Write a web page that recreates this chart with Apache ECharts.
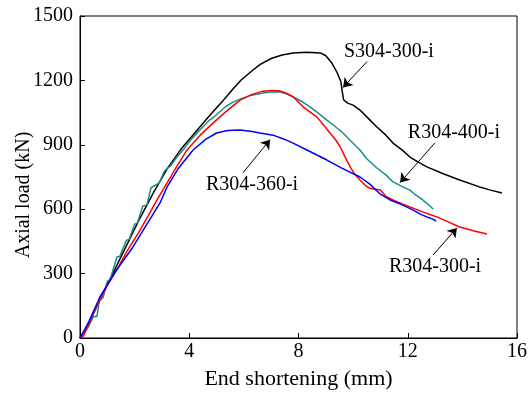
<!DOCTYPE html>
<html>
<head>
<meta charset="utf-8">
<script src="https://cdn.jsdelivr.net/npm/echarts@6/dist/echarts.min.js"></script>
<style>
html, body { margin: 0; padding: 0; background: #fff; }
#chart { width: 531px; height: 396px; }
</style>
</head>
<body>
<div id="chart"></div>
<script>
// end shortening (mm) vs axial load (kN)
var s304_300 = [[0,0],[0.3,60],[0.7,170],[1.2,300],[1.7,430],[2.2,560],[2.7,680],[3.2,790],[3.7,880],[4.2,955],[4.7,1030],[5.2,1100],[5.6,1160],[5.9,1202],[6.3,1245],[6.6,1275],[7.0,1302],[7.4,1318],[7.8,1328],[8.3,1331],[8.8,1328],[9.0,1315],[9.2,1285],[9.4,1240],[9.55,1195],[9.6,1150],[9.65,1110],[9.8,1094],[10.0,1085],[10.25,1062],[10.5,1030],[10.87,983],[11.2,945],[11.46,908],[11.8,875],[12.08,843],[12.4,818],[12.7,797],[13.3,765],[13.9,736],[14.6,705],[15.0,690],[15.45,675]];
var r304_400 = [[0,0],[0.3,50],[0.5,100],[0.62,100],[0.7,170],[0.85,190],[1.0,265],[1.1,270],[1.35,377],[1.45,380],[1.7,455],[1.8,460],[2.0,530],[2.1,536],[2.3,615],[2.45,619],[2.6,700],[2.9,722],[3.1,780],[3.3,800],[3.55,843],[3.8,880],[4.1,930],[4.39,969],[4.7,1010],[5.0,1040],[5.3,1075],[5.6,1099],[5.9,1115],[6.2,1128],[6.7,1141],[7.0,1146],[7.32,1147],[7.6,1135],[7.8,1124],[8.1,1103],[8.42,1077],[8.7,1050],[9.04,1015],[9.3,990],[9.63,955],[9.9,920],[10.25,876],[10.5,835],[10.87,792],[11.2,760],[11.46,727],[11.8,705],[12.08,689],[12.3,665],[12.5,648],[12.75,622],[12.93,601]];
var r304_300 = [[0,0],[0.1,5],[0.2,30],[0.4,90],[0.73,177],[1.0,245],[1.35,317],[1.7,400],[2.2,503],[2.5,570],[2.82,643],[3.2,725],[3.5,790],[3.92,876],[4.4,945],[4.87,1001],[5.3,1050],[5.86,1108],[6.3,1135],[6.7,1150],[7.0,1153],[7.3,1152],[7.55,1140],[7.8,1124],[8.17,1077],[8.4,1055],[8.67,1030],[8.9,995],[9.15,955],[9.35,925],[9.52,892],[9.7,845],[9.89,797],[10.05,765],[10.25,736],[10.45,710],[10.6,698],[11.0,689],[11.2,660],[11.46,643],[11.8,625],[12.08,611],[12.5,590],[13.07,564],[13.5,540],[13.9,517],[14.4,500],[14.9,484]];
var r304_360 = [[0,0],[0.3,70],[0.73,191],[1.3,310],[1.94,424],[2.4,520],[2.93,629],[3.19,704],[3.6,790],[4.14,876],[4.6,925],[5.0,955],[5.4,967],[5.86,969],[6.3,962],[6.59,955],[7.07,945],[7.5,925],[7.8,908],[8.4,870],[9.04,829],[9.6,790],[10.25,750],[10.6,718],[11.0,670],[11.35,643],[11.8,620],[12.2,596],[12.5,575],[12.7,564],[12.9,555],[13.04,545]];

var names = ['S304-300-i', 'R304-400-i', 'R304-300-i', 'R304-360-i'];
var colors = ['#000000', '#1a8c8c', '#ff0000', '#0000ff'];
// label position, arrow start, arrow end (data units)
var labelPos = [[11.31,1334],[13.69,957],[13.0,331],[6.3,714]];
var arrowFrom = [[10.51,1288],[13.0,910],[12.93,387],[5.97,770]];
var arrowTo = [[9.63,1167],[11.72,724],[13.8,513],[6.96,924]];
var seriesData = [s304_300, r304_400, r304_300, r304_360];

var font = '"Liberation Serif", "Times New Roman", serif';

function plain(v) {
    return String(v);
}

var series = seriesData.map(function (d, i) {
    return {
        name: names[i],
        type: 'line',
        data: d,
        showSymbol: false,
        lineStyle: { color: colors[i], width: 1.5 },
        itemStyle: { color: colors[i] },
        animation: false,
        markLine: {
            silent: true,
            symbol: ['none', 'arrow'],
            symbolSize: 9,
            lineStyle: { color: '#000', width: 1, type: 'solid' },
            label: { show: false },
            data: [[{ coord: arrowFrom[i] }, { coord: arrowTo[i] }]]
        },
        markPoint: {
            silent: true,
            symbol: 'circle',
            symbolSize: 1,
            itemStyle: { color: 'rgba(0,0,0,0)' },
            label: {
                show: true,
                position: 'inside',
                formatter: '{t|' + names[i] + '}',
                rich: {
                    t: { color: '#000', fontFamily: font, fontSize: 20 }
                }
            },
            data: [{ coord: labelPos[i] }]
        }
    };
});

var option = {
    backgroundColor: '#fff',
    animation: false,
    textStyle: { fontFamily: font },
    grid: {
        left: 80,
        right: 14,
        top: 16,
        bottom: 58,
        outerBoundsMode: 'none',
        show: true,
        borderColor: '#000',
        borderWidth: 1
    },
    xAxis: {
        type: 'value',
        min: 0,
        max: 16,
        interval: 4,
        name: 'End shortening (mm)',
        nameLocation: 'middle',
        nameGap: 30,
        nameMoveOverlap: false,
        nameTextStyle: { color: '#000', fontFamily: font, fontSize: 22 },
        axisLine: { lineStyle: { color: '#000', width: 1 } },
        axisTick: { inside: true, length: 5, lineStyle: { color: '#000' } },
        axisLabel: { color: '#000', fontFamily: font, fontSize: 20, margin: 4, formatter: plain },
        splitLine: { show: false }
    },
    yAxis: {
        type: 'value',
        min: 0,
        max: 1500,
        interval: 300,
        name: 'Axial load (kN)',
        nameLocation: 'middle',
        nameGap: 46,
        nameMoveOverlap: false,
        nameTextStyle: { color: '#000', fontFamily: font, fontSize: 20, padding: [0, 36, 0, 0] },
        axisLine: { show: true, lineStyle: { color: '#000', width: 1 } },
        axisTick: { show: true, inside: true, length: 5, lineStyle: { color: '#000' } },
        axisLabel: { color: '#000', fontFamily: font, fontSize: 20, margin: 7, formatter: plain },
        splitLine: { show: false }
    },
    series: series
};

var myChart = echarts.init(document.getElementById('chart'));
myChart.setOption(option);
</script>
</body>
</html>
